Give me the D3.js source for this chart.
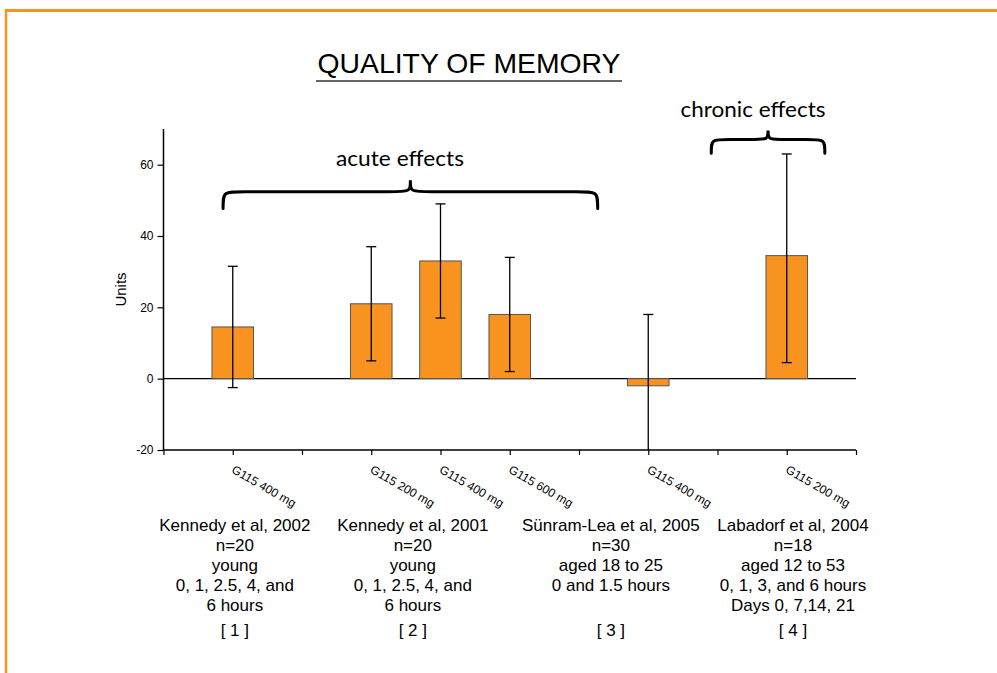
<!DOCTYPE html>
<html>
<head>
<meta charset="utf-8">
<script src="https://cdn.jsdelivr.net/npm/d3@7"></script>
<style>
	body { margin: 0; background: #fff; }
	svg { display: block; font-family: "Liberation Sans", Arial, sans-serif; }
</style>
</head>
<body>
<div id="chart"></div>
<script>
// bar data (slot = position on the 0..10 category axis)
const slots = [1, 3, 4, 5, 7, 9];
const doses = ["G115 400 mg", "G115 200 mg", "G115 400 mg", "G115 600 mg", "G115 400 mg", "G115 200 mg"];
const means = [14.5, 21, 33, 18, -2, 34.5];
const errLow = [-2.5, 5, 17, 2, -22, 4.5];
const errHigh = [31.5, 37, 49, 34, 18, 63];

// y axis
const yTicks = [-20, 0, 20, 40, 60];

// study captions under the axis
const studySlots = [1.03, 3.6, 6.46, 9.09];
const studyLines = [
	["Kennedy et al, 2002", "n=20", "young", "0, 1, 2.5, 4, and", "6 hours"],
	["Kennedy et al, 2001", "n=20", "young", "0, 1, 2.5, 4, and", "6 hours"],
	["Sünram-Lea et al, 2005", "n=30", "aged 18 to 25", "0 and 1.5 hours"],
	["Labadorf et al, 2004", "n=18", "aged 12 to 53", "0, 1, 3, and 6 hours", "Days 0, 7,14, 21"]
];
const studyRefs = ["[ 1 ]", "[ 2 ]", "[ 3 ]", "[ 4 ]"];

// curly braces: left slot, right slot, end value, peak value, label
const braceLabels = ["acute effects", "chronic effects"];
const braceFrom = [0.86, 7.91];
const braceTo = [6.27, 9.55];
const braceEnd = [47.7, 63.2];
const bracePeak = [55.6, 69.6];

const orange = "#f7931e";

const W = 997, H = 673;
const svg = d3.select("#chart").append("svg")
	.attr("width", W)
	.attr("height", H);

// slide border
svg.append("line").attr("x1", 5).attr("x2", W).attr("y1", 10.5).attr("y2", 10.5)
	.attr("stroke", orange).attr("stroke-width", 3);
svg.append("line").attr("x1", 6).attr("x2", 6).attr("y1", 9).attr("y2", H)
	.attr("stroke", orange).attr("stroke-width", 2.5);

// title
svg.append("text")
	.attr("x", 469).attr("y", 73)
	.attr("text-anchor", "middle")
	.attr("textLength", 303).attr("lengthAdjust", "spacingAndGlyphs")
	.style("font-size", "28px")
	.text("QUALITY OF MEMORY");
svg.append("line").attr("x1", 316).attr("x2", 622).attr("y1", 81).attr("y2", 81)
	.attr("stroke", "#333").attr("stroke-width", 1.5);

// scales
const x = d3.scaleLinear().domain([0, 10]).range([163.5, 856]);
const y = d3.scaleLinear().domain([-20, 70]).range([450, 129]);
const barW = 0.6 * (x(1) - x(0));

// axes
const yAxis = d3.axisLeft(y).tickValues(yTicks).tickSize(6).tickPadding(4).tickFormat(d => String(d));
const gy = svg.append("g").attr("transform", `translate(${x(0)},0)`).call(yAxis);
gy.select(".domain").attr("d", `M0,${y(70)}V${y(-20)}`).attr("stroke-width", 1.5);
gy.selectAll(".tick line").attr("stroke-width", 1.2);
gy.selectAll(".tick text").style("font-size", "12px").style("font-family", "Liberation Sans, Arial, sans-serif");

const xAxis = d3.axisBottom(x).tickValues(d3.range(0, 11)).tickSize(5).tickFormat("");
const gx = svg.append("g").attr("transform", `translate(0,${y(-20)})`).call(xAxis);
gx.select(".domain").attr("d", `M${x(0)},0H${x(10)}`).attr("stroke-width", 1.5);
gx.selectAll(".tick line").attr("stroke-width", 1.2);

// zero line
svg.append("line")
	.attr("x1", x(0)).attr("x2", x(10))
	.attr("y1", y(0)).attr("y2", y(0))
	.attr("stroke", "#000").attr("stroke-width", 1.3);

// y label
svg.append("text")
	.attr("transform", `translate(126,${(y(-20) + y(70)) / 2}) rotate(-90)`)
	.attr("text-anchor", "middle")
	.style("font-size", "15px")
	.text("Units");

// bars
const bars = slots.map((s, i) => ({slot: s, mean: means[i], lo: errLow[i], hi: errHigh[i], dose: doses[i]}));

svg.selectAll(".bar")
	.data(bars)
	.enter().append("rect")
	.attr("class", "bar")
	.attr("x", d => x(d.slot) - barW / 2)
	.attr("y", d => y(Math.max(0, d.mean)))
	.attr("width", barW)
	.attr("height", d => Math.abs(y(d.mean) - y(0)))
	.attr("fill", orange)
	.attr("stroke", "#555")
	.attr("stroke-width", 1);

// error bars (clipped to the axis range)
const clamp = v => Math.max(-20, Math.min(70, v));
const err = svg.selectAll(".err")
	.data(bars)
	.enter().append("g")
	.attr("class", "err")
	.attr("stroke", "#000")
	.attr("stroke-width", 1.3);
err.append("line")
	.attr("x1", d => x(d.slot)).attr("x2", d => x(d.slot))
	.attr("y1", d => y(clamp(d.hi))).attr("y2", d => y(clamp(d.lo)));
err.append("line")
	.attr("x1", d => x(d.slot) - 5).attr("x2", d => x(d.slot) + 5)
	.attr("y1", d => y(d.hi)).attr("y2", d => y(d.hi));
err.filter(d => d.lo >= -20).append("line")
	.attr("x1", d => x(d.slot) - 5).attr("x2", d => x(d.slot) + 5)
	.attr("y1", d => y(d.lo)).attr("y2", d => y(d.lo));

// rotated dose labels
svg.selectAll(".dose")
	.data(bars)
	.enter().append("text")
	.attr("class", "dose")
	.attr("transform", d => `translate(${x(d.slot) - 2},${y(-20) + 22}) rotate(30)`)
	.style("font-size", "12px")
	.text(d => d.dose);

// study captions
const studies = svg.selectAll(".study")
	.data(studySlots)
	.enter().append("g")
	.attr("class", "study")
	.attr("transform", d => `translate(${x(d)},0)`);
studies.selectAll("text.line")
	.data((d, i) => studyLines[i])
	.enter().append("text")
	.attr("class", "line")
	.attr("y", (d, j) => 531 + j * 20)
	.attr("text-anchor", "middle")
	.style("font-size", "17px")
	.text(d => d);
studies.append("text")
	.attr("y", 636)
	.attr("text-anchor", "middle")
	.style("font-size", "17px")
	.text((d, i) => studyRefs[i]);

// curly braces
function bracePath(x0, x1, yEnd, yPeak) {
	const xm = (x0 + x1) / 2;
	const yMid = yEnd + (yPeak - yEnd) * 0.6;
	const r = Math.min(22, (x1 - x0) / 6);
	return `M${x0},${yEnd}` +
		`C${x0},${yMid} ${x0},${yMid} ${x0 + r},${yMid}` +
		`L${xm - r},${yMid}` +
		`C${xm},${yMid} ${xm},${yMid} ${xm},${yPeak}` +
		`C${xm},${yMid} ${xm},${yMid} ${xm + r},${yMid}` +
		`L${x1 - r},${yMid}` +
		`C${x1},${yMid} ${x1},${yMid} ${x1},${yEnd}`;
}

braceLabels.forEach((label, i) => {
	svg.append("path")
		.attr("d", bracePath(x(braceFrom[i]), x(braceTo[i]), y(braceEnd[i]), y(bracePeak[i])))
		.attr("fill", "none")
		.attr("stroke", "#000")
		.attr("stroke-width", 3)
		.attr("stroke-linecap", "round");
});

svg.append("text")
	.attr("x", 400).attr("y", 166)
	.attr("text-anchor", "middle")
	.style("font-family", "Lato, 'Open Sans', sans-serif")
	.style("font-size", "22px")
	.attr("textLength", 128).attr("lengthAdjust", "spacingAndGlyphs")
	.text(braceLabels[0]);
svg.append("text")
	.attr("x", 753).attr("y", 117)
	.attr("text-anchor", "middle")
	.style("font-family", "Lato, 'Open Sans', sans-serif")
	.style("font-size", "22px")
	.attr("textLength", 145).attr("lengthAdjust", "spacingAndGlyphs")
	.text(braceLabels[1]);
</script>
</body>
</html>
